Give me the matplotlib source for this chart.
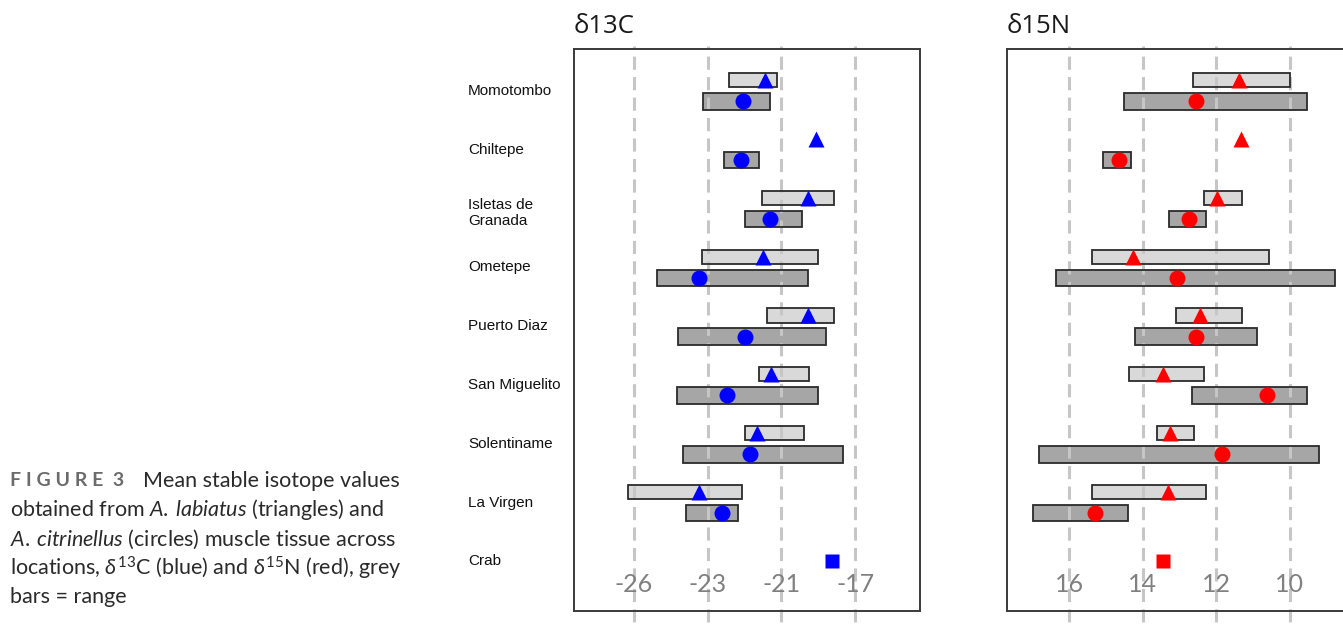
import numpy as np
import matplotlib
matplotlib.use("Agg")
import matplotlib.pyplot as plt
from matplotlib import transforms

plt.rcParams['mathtext.fontset'] = 'custom'
plt.rcParams['mathtext.rm'] = 'Lato'
plt.rcParams['mathtext.it'] = 'Lato:italic'

nan = np.nan

locations = ["Momotombo", "Chiltepe", "Isletas de\nGranada", "Ometepe",
             "Puerto Diaz", "San Miguelito", "Solentiname", "La Virgen", "Crab"]

# delta 13C, A. labiatus (triangles)
c13_lab_mean = [-21.44, -20.07, -20.29, -21.49, -20.29, -21.28, -21.67, -23.24]
c13_lab_lo = [-22.42, nan, -21.52, -23.16, -21.39, -21.60, -22.00, -25.16]
c13_lab_hi = [-21.11, nan, -19.56, -20.01, -19.56, -20.24, -20.38, -22.07]
# delta 13C, A. citrinellus (circles)
c13_cit_mean = [-22.04, -22.09, -21.31, -23.24, -21.99, -22.47, -21.84, -22.60]
c13_cit_lo = [-23.13, -22.56, -22.00, -24.38, -23.80, -23.83, -23.67, -23.58]
c13_cit_hi = [-21.30, -21.61, -20.43, -20.27, -19.79, -20.00, -19.33, -22.17]
c13_crab = -19.63

# delta 15N, A. labiatus (triangles)
n15_lab_mean = [11.37, 11.33, 11.98, 14.25, 12.45, 13.45, 13.25, 13.30]
n15_lab_lo = [9.99, nan, 11.30, 10.57, 11.30, 12.33, 12.61, 12.28]
n15_lab_hi = [12.63, nan, 12.34, 15.37, 13.09, 14.36, 13.61, 15.37]
# delta 15N, A. citrinellus (circles)
n15_cit_mean = [12.54, 14.64, 12.74, 13.06, 12.55, 10.62, 11.85, 15.29]
n15_cit_lo = [9.54, 14.33, 12.27, 8.76, 10.90, 9.54, 9.21, 14.40]
n15_cit_hi = [14.50, 15.08, 13.27, 16.35, 14.22, 12.66, 16.83, 16.98]
n15_crab = 13.44

c13_ticks = [-25, -23, -21, -19]
c13_ticklabels = ["-26", "-23", "-21", "-17"]
n15_ticks = [16, 14, 12, 10]
n15_ticklabels = ["16", "14", "12", "10"]

fig = plt.figure(figsize=(13.43, 6.27), dpi=100)


def range_bars(ax, rows, lo, hi, height, fill):
    lo = np.array(lo)
    hi = np.array(hi)
    ok = ~np.isnan(lo)
    ax.barh(rows[ok], hi[ok] - lo[ok], left=lo[ok], height=height,
            color=fill, edgecolor='none', zorder=1)
    ax.barh(rows[ok], hi[ok] - lo[ok], left=lo[ok], height=height,
            facecolor='none', edgecolor='#2b2b2b', linewidth=1.3, zorder=3)


def panel(left, xlim, title, colour, lab, cit, crab, ticks, ticklabels):
    ax = fig.add_axes([left, 0.0255, 0.2576, 0.8963])
    n = len(lab[0])
    rows = np.arange(n)
    range_bars(ax, rows - 0.18, lab[1], lab[2], 0.24, '#d9d9d9')
    range_bars(ax, rows + 0.18, cit[1], cit[2], 0.28, '#a6a6a6')
    ax.plot(lab[0], rows - 0.18, '^', color=colour, ms=11, mec='none', zorder=4)
    ax.plot(cit[0], rows + 0.18, 'o', color=colour, ms=11.5, mec='none', zorder=4)
    ax.plot([crab], [n], 's', color=colour, ms=9.5, mec='none', zorder=4)

    for t, lbl in zip(ticks, ticklabels):
        ax.plot([t, t], [-0.02, 1.005], color='#c6c6c6', lw=2.2,
                dashes=(4.3, 2.4), transform=ax.get_xaxis_transform(),
                clip_on=False, zorder=2)
        ax.text(t, 0.048, lbl, transform=ax.get_xaxis_transform(),
                ha='center', va='center', fontsize=18, color='#808080',
                family=['Lato', 'DejaVu Sans'])

    ax.set_xlim(*xlim)
    ax.set_ylim(8.844, -0.709)
    ax.set_xticks([])
    ax.set_yticks([])
    for s in ax.spines.values():
        s.set_color('#3a3a3a')
        s.set_linewidth(1.4)
    fig.text(left, 0.958, title, ha='left', va='center', fontsize=18.5,
             color='#1a1a1a', family=['Open Sans', 'DejaVu Sans'])
    return ax


ax1 = panel(0.4274, (-26.63, -17.24), "δ13C", '#0000ff',
            (c13_lab_mean, c13_lab_lo, c13_lab_hi),
            (c13_cit_mean, c13_cit_lo, c13_cit_hi), c13_crab,
            c13_ticks, c13_ticklabels)
ax2 = panel(0.7498, (17.69, 8.28), "δ15N", '#ff0000',
            (n15_lab_mean, n15_lab_lo, n15_lab_hi),
            (n15_cit_mean, n15_cit_lo, n15_cit_hi), n15_crab,
            n15_ticks, n15_ticklabels)

# site names to the left of the first panel
trans = transforms.blended_transform_factory(fig.transFigure, ax1.transData)
for i, name in enumerate(locations):
    y = i + 0.08 if "\n" in name else i
    ax1.text(468 / 1343, y, name, transform=trans, ha='left', va='center',
             fontsize=11, color='#111111', family='Liberation Sans',
             linespacing=1.2)

# figure caption
cap = dict(fontsize=15.5, color='#2a2a2a', family=['Lato', 'DejaVu Sans'],
           va='center', ha='left')
fig.text(10 / 1343, 1 - 481 / 627, "F I G U R E  3", fontweight='bold',
         fontsize=14, color='#6b6b6b', family='Lato', va='center', ha='left')
fig.text(143 / 1343, 1 - 481 / 627, "Mean stable isotope values", **cap)
fig.text(10 / 1343, 1 - 510 / 627,
         r"obtained from $\mathit{A.\:labiatus}$ (triangles) and", **cap)
fig.text(10 / 1343, 1 - 539 / 627,
         r"$\mathit{A.\:citrinellus}$ (circles) muscle tissue across", **cap)
fig.text(10 / 1343, 1 - 568 / 627,
         r"locations, $\delta^{13}$C (blue) and $\delta^{15}$N (red), grey", **cap)
fig.text(10 / 1343, 1 - 597 / 627, "bars = range", **cap)

fig.savefig("out.png", dpi=100)
